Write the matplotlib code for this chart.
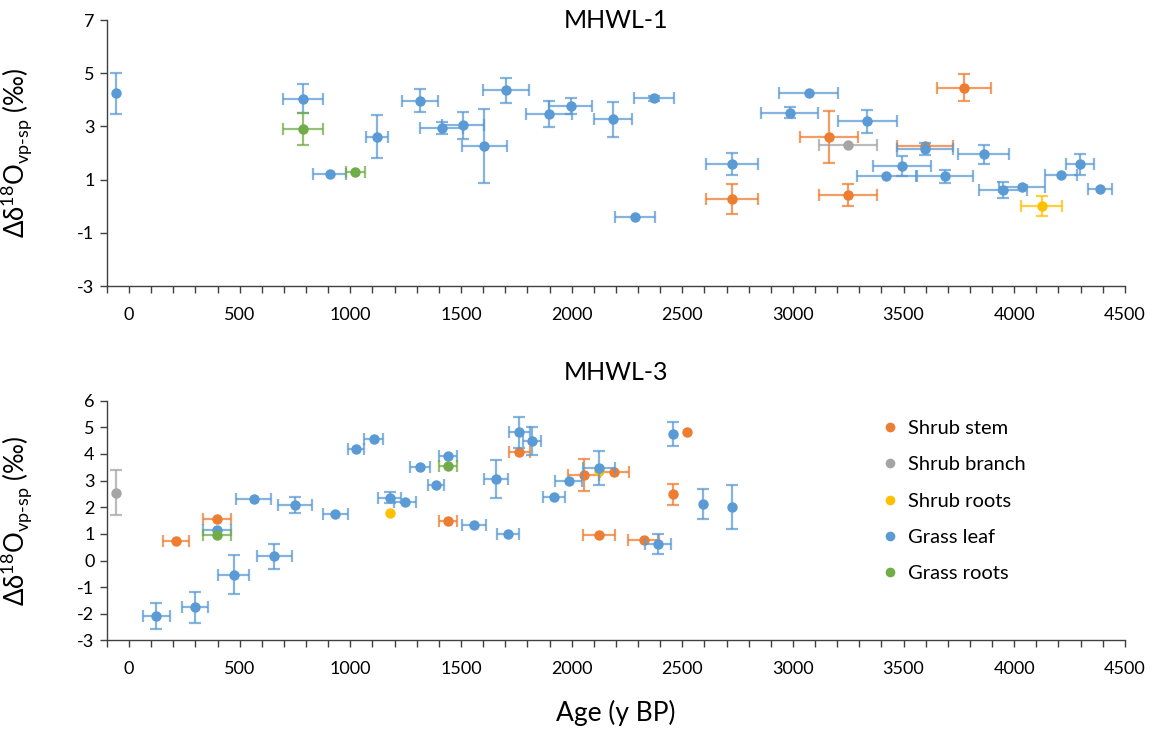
import numpy as np
import matplotlib.pyplot as plt
from matplotlib.lines import Line2D

plt.rcParams['font.family'] = ['Lato', 'DejaVu Sans']
plt.rcParams['mathtext.fontset'] = 'custom'
plt.rcParams['mathtext.rm'] = 'Lato'
plt.rcParams['axes.unicode_minus'] = False

# series names and colours (Excel office palette)
series = ['Shrub stem', 'Shrub branch', 'Shrub roots', 'Grass leaf', 'Grass roots']
colors = ['#ED7D31', '#A5A5A5', '#FFC000', '#5B9BD5', '#70AD47']

# ---------------- MHWL-1 ----------------
m1_stem_x = [2724, 3773, 3162, 3598, 3248]
m1_stem_y = [0.27, 4.46, 2.61, 2.27, 0.42]
m1_stem_xe = [116, 121, 132, 127, 132]
m1_stem_ye = [0.58, 0.51, 0.98, 0, 0.40]

m1_branch_x = [3248]
m1_branch_y = [2.31]
m1_branch_xe = [132]
m1_branch_ye = [0]

m1_sroots_x = [4124]
m1_sroots_y = [0.02]
m1_sroots_xe = [91]
m1_sroots_ye = [0.38]

m1_leaf_x = [-60, 785, 906, 1120, 1314, 1412, 1508, 1606, 1702, 1898, 1996, 2188, 2372, 2286,
             2724, 3072, 2986, 3337, 3598, 3862, 3493, 3422, 3687, 3949, 4036, 4212, 4298, 4387]
m1_leaf_y = [4.24, 4.04, 1.21, 2.61, 3.97, 2.94, 3.04, 2.27, 4.36, 3.47, 3.77, 3.26, 4.06, -0.40,
             1.60, 4.26, 3.52, 3.20, 2.15, 1.96, 1.51, 1.12, 1.12, 0.61, 0.73, 1.18, 1.57, 0.64]
m1_leaf_xe = [0, 90, 73, 51, 82, 96, 96, 102, 104, 102, 98, 87, 91, 90,
              116, 133, 129, 133, 127, 116, 130, 133, 126, 109, 105, 72, 65, 54]
m1_leaf_ye = [0.78, 0.55, 0, 0.81, 0.44, 0.22, 0.52, 1.38, 0.47, 0.50, 0.29, 0.66, 0.10, 0,
              0.41, 0, 0.22, 0.43, 0.22, 0.36, 0.36, 0, 0.25, 0.29, 0, 0, 0.41, 0]

m1_groots_x = [785, 1022]
m1_groots_y = [2.90, 1.285]
m1_groots_xe = [90, 43]
m1_groots_ye = [0.59, 0]

# ---------------- MHWL-3 ----------------
m3_stem_x = [211, 399, 1443, 1764, 2054, 2193, 2522, 2456, 2124, 2325]
m3_stem_y = [0.74, 1.55, 1.49, 4.07, 3.20, 3.32, 4.81, 2.49, 0.97, 0.76]
m3_stem_xe = [59, 63, 41, 49, 70, 65, 0, 0, 73, 70]
m3_stem_ye = [0, 0, 0, 0, 0.61, 0, 0, 0.39, 0, 0]

m3_branch_x = [-57]
m3_branch_y = [2.55]
m3_branch_xe = [0]
m3_branch_ye = [0.84]

m3_sroots_x = [1177, 2124]
m3_sroots_y = [1.77, 3.35]
m3_sroots_xe = [0, 0]
m3_sroots_ye = [0, 0]

m3_leaf_x = [123, 298, 473, 656, 563, 750, 932, 1026, 1105, 1177, 1246, 1315, 1388, 1443,
             399, 1558, 1660, 1713, 1764, 1820, 1919, 1987, 2124, 2390, 2456, 2592, 2725]
m3_leaf_y = [-2.08, -1.75, -0.53, 0.16, 2.30, 2.09, 1.74, 4.19, 4.55, 2.36, 2.20, 3.49, 2.84, 3.91,
             1.15, 1.34, 3.07, 0.99, 4.81, 4.49, 2.39, 2.98, 3.46, 0.63, 4.74, 2.12, 2.00]
m3_leaf_xe = [62, 60, 70, 80, 78, 77, 56, 35, 43, 51, 51, 46, 37, 41,
              63, 54, 54, 51, 49, 42, 49, 61, 74, 59, 0, 0, 0]
m3_leaf_ye = [0.49, 0.58, 0.72, 0.47, 0, 0.29, 0, 0, 0, 0.21, 0, 0, 0, 0,
              0, 0, 0.71, 0, 0.58, 0.52, 0, 0, 0.64, 0.38, 0.45, 0.58, 0.83]

m3_groots_x = [399, 1443]
m3_groots_y = [0.96, 3.55]
m3_groots_xe = [63, 41]
m3_groots_ye = [0, 0]

panel1 = [(m1_stem_x, m1_stem_y, m1_stem_xe, m1_stem_ye),
          (m1_branch_x, m1_branch_y, m1_branch_xe, m1_branch_ye),
          (m1_sroots_x, m1_sroots_y, m1_sroots_xe, m1_sroots_ye),
          (m1_leaf_x, m1_leaf_y, m1_leaf_xe, m1_leaf_ye),
          (m1_groots_x, m1_groots_y, m1_groots_xe, m1_groots_ye)]
panel3 = [(m3_stem_x, m3_stem_y, m3_stem_xe, m3_stem_ye),
          (m3_branch_x, m3_branch_y, m3_branch_xe, m3_branch_ye),
          (m3_sroots_x, m3_sroots_y, m3_sroots_xe, m3_sroots_ye),
          (m3_leaf_x, m3_leaf_y, m3_leaf_xe, m3_leaf_ye),
          (m3_groots_x, m3_groots_y, m3_groots_xe, m3_groots_ye)]

fig = plt.figure(figsize=(11.54, 7.33), dpi=100)
ax1 = fig.add_axes([0.0927, 0.6098, 0.882, 0.3629])
ax3 = fig.add_axes([0.0927, 0.1262, 0.882, 0.3274])

ylabel = 'Δδ$^{\\mathregular{18}}$O$_{\\mathregular{vp\u2010sp}}$ (‰)'


def draw(ax, data, yticks, title, title_y):
    for k, (x, y, xe, ye) in enumerate(data):
        x, y, xe, ye = map(np.asarray, (x, y, xe, ye))
        c = colors[k]
        m = xe > 0
        if m.any():
            ax.errorbar(x[m], y[m], xerr=xe[m], fmt='none', ecolor=c, alpha=0.75,
                        elinewidth=1.6, capsize=4, capthick=1.6, zorder=2 + k)
        m = ye > 0
        if m.any():
            ax.errorbar(x[m], y[m], yerr=ye[m], fmt='none', ecolor=c, alpha=0.75,
                        elinewidth=1.6, capsize=4, capthick=1.6, zorder=2 + k)
        ax.plot(x, y, 'o', color=c, ms=7.5, mec='none', zorder=2.5 + k)

    ax.set_xlim(-100, 4500)
    ax.set_ylim(yticks[0], yticks[-1])
    ax.set_xticks(np.arange(-100, 4501, 100), minor=True)
    ax.set_xticks(np.arange(0, 4501, 500))
    ax.set_yticks(yticks)
    ax.tick_params(axis='x', which='both', direction='out', length=5, width=1,
                   color='#404040', labelsize=13, pad=10)
    ax.tick_params(axis='y', direction='out', length=5, width=1,
                   color='#404040', labelsize=13, pad=4)
    for s in ['top', 'right']:
        ax.spines[s].set_visible(False)
    for s in ['left', 'bottom']:
        ax.spines[s].set_color('#404040')
        ax.spines[s].set_linewidth(1)
    ax.text(0.5, title_y, title, transform=ax.transAxes, ha='center', va='center',
            fontsize=18)
    ax.set_ylabel(ylabel, fontsize=18.5)
    ax.yaxis.set_label_coords(-0.072, 0.5)


draw(ax1, panel1, [-3, -1, 1, 3, 5, 7], 'MHWL-1', 1.0)
draw(ax3, panel3, list(range(-3, 7)), 'MHWL-3', 1.115)
ax3.set_xlabel('Age (y BP)', fontsize=19, labelpad=16)

handles = [Line2D([], [], ls='none', marker='o', ms=7, mec='none', color=c) for c in colors]
fig.legend(handles, series, loc='upper left', bbox_to_anchor=(0.7487, 0.4516),
           frameon=False, fontsize=14.5, labelspacing=0.95, handlelength=0.8,
           handletextpad=0.5)

fig.savefig('out.png', dpi=100)
